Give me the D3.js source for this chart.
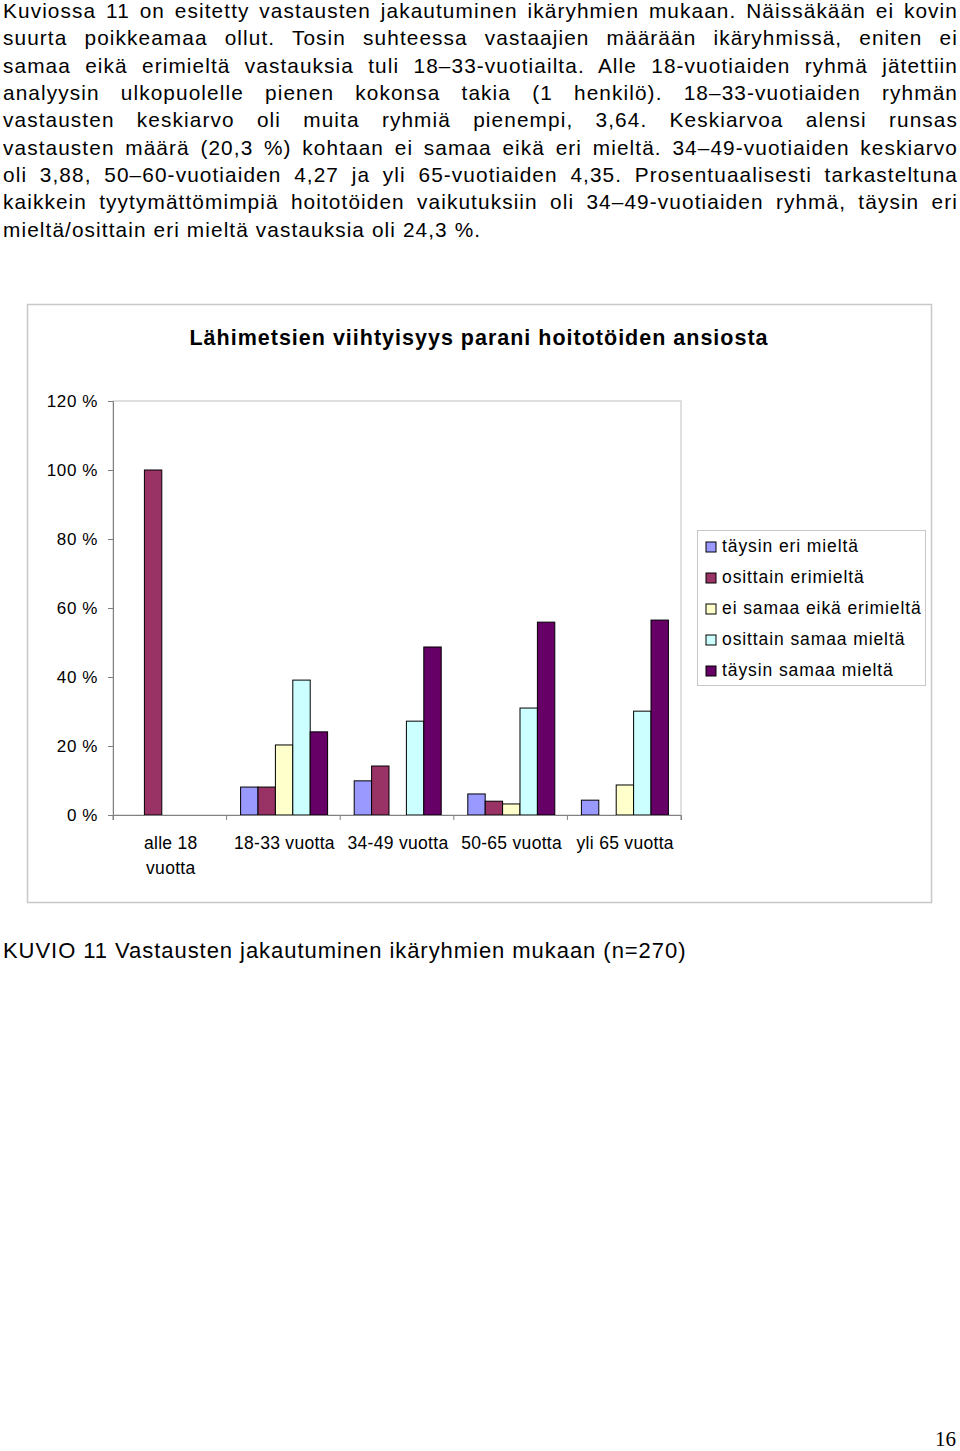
<!DOCTYPE html>
<html lang="fi">
<head>
<meta charset="UTF-8">
<title>Lähimetsien viihtyisyys</title>
<style>
  body { margin: 0; width: 960px; height: 1451px; background: #fff; font-family: "Liberation Sans", Arial, sans-serif; position: relative; }
  .para { position: absolute; left: 3px; top: -3px; width: 955px; font-size: 20.8px; letter-spacing: 1.1px; line-height: 27.35px; color: #000; }
  .para div { text-align: justify; text-align-last: justify; white-space: nowrap; }
  .para div.last { text-align-last: left; }
  svg { position: absolute; left: 0; top: 0; }
</style>
</head>
<body>
<div class="para" id="para"></div>
<svg id="chart" width="960" height="1451"></svg>
<script src="https://d3js.org/d3.v7.min.js"></script>
<script>
// paragraph lines as in the reference
const textLines = [
  "Kuviossa 11 on esitetty vastausten jakautuminen ikäryhmien mukaan. Näissäkään ei kovin",
  "suurta poikkeamaa ollut. Tosin suhteessa vastaajien määrään ikäryhmissä, eniten ei",
  "samaa eikä erimieltä vastauksia tuli 18–33-vuotiailta. Alle 18-vuotiaiden ryhmä jätettiin",
  "analyysin ulkopuolelle pienen kokonsa takia (1 henkilö). 18–33-vuotiaiden ryhmän",
  "vastausten keskiarvo oli muita ryhmiä pienempi, 3,64. Keskiarvoa alensi runsas",
  "vastausten määrä (20,3 %) kohtaan ei samaa eikä eri mieltä. 34–49-vuotiaiden keskiarvo",
  "oli 3,88, 50–60-vuotiaiden 4,27 ja yli 65-vuotiaiden 4,35. Prosentuaalisesti tarkasteltuna",
  "kaikkein tyytymättömimpiä hoitotöiden vaikutuksiin oli 34–49-vuotiaiden ryhmä, täysin eri",
  "mieltä/osittain eri mieltä vastauksia oli 24,3 %."
];

const categories = ["alle 18 vuotta", "18-33 vuotta", "34-49 vuotta", "50-65 vuotta", "yli 65 vuotta"];
const categoryLines = [["alle 18", "vuotta"], ["18-33 vuotta"], ["34-49 vuotta"], ["50-65 vuotta"], ["yli 65 vuotta"]];
const seriesNames = ["täysin eri mieltä", "osittain erimieltä", "ei samaa eikä erimieltä", "osittain samaa mieltä", "täysin samaa mieltä"];
const seriesColors = ["#9999ff", "#993366", "#ffffcc", "#ccffff", "#660066"];
// values in percent, one array per series, ordered by category
const taysinEri    = [0, 8.1, 9.9, 6.1, 4.3];
const osittainEri  = [100, 8.1, 14.2, 4.0, 0];
const eiSamaaEika  = [0, 20.3, 0, 3.2, 8.7];
const osittainSama = [0, 39.1, 27.2, 31.0, 30.1];
const taysinSama   = [0, 24.1, 48.7, 55.9, 56.5];
const seriesValues = [taysinEri, osittainEri, eiSamaaEika, osittainSama, taysinSama];
const yTicks = [0, 20, 40, 60, 80, 100, 120];

// paragraph
const para = d3.select("#para");
textLines.forEach((t, i) => {
  para.append("div").attr("class", i === textLines.length - 1 ? "last" : null).text(t);
});

const svg = d3.select("#chart");
const font = "Liberation Sans, Arial, sans-serif";

// chart frame
svg.append("rect").attr("x", 27.5).attr("y", 304.5).attr("width", 904).attr("height", 598)
  .attr("fill", "#fff").attr("stroke", "#c8c8c8").attr("stroke-width", 1.5);

svg.append("text").attr("x", 479).attr("y", 345).attr("text-anchor", "middle")
  .attr("font-family", font).attr("font-weight", "bold").attr("font-size", 21.5)
  .attr("letter-spacing", 1).text("Lähimetsien viihtyisyys parani hoitotöiden ansiosta");

const plot = { left: 113, right: 681, top: 401, bottom: 815 };
const y = d3.scaleLinear().domain([0, 120]).range([plot.bottom, plot.top]);
const x0 = d3.scaleBand().domain(categories).range([plot.left, plot.right]);
const x1 = d3.scaleBand().domain(seriesNames).range([14, 14 + 87]);

// plot area border
svg.append("rect").attr("x", plot.left).attr("y", plot.top)
  .attr("width", plot.right - plot.left).attr("height", plot.bottom - plot.top)
  .attr("fill", "none").attr("stroke", "#c0c0c0");

// y axis
const yAxis = svg.append("g").attr("transform", `translate(${plot.left},0)`)
  .call(d3.axisLeft(y).tickValues(yTicks).tickSize(5).tickPadding(10).tickFormat(d => d + " %"));
yAxis.selectAll("path, line").attr("stroke", "#808080");
yAxis.selectAll("text").attr("font-family", font).attr("font-size", 17).attr("letter-spacing", 0.6).attr("fill", "#000");

// bars
seriesNames.forEach((s, si) => {
  svg.append("g").selectAll("rect")
    .data(seriesValues[si].map((v, ci) => ({ v, c: categories[ci] })).filter(d => d.v > 0))
    .join("rect")
    .attr("x", d => x0(d.c) + x1(s))
    .attr("y", d => y(d.v))
    .attr("width", x1.bandwidth())
    .attr("height", d => y(0) - y(d.v))
    .attr("fill", seriesColors[si])
    .attr("stroke", "#000").attr("stroke-width", 1);
});

// x axis
const xAxis = svg.append("g").attr("transform", `translate(0,${plot.bottom})`)
  .call(d3.axisBottom(x0).tickSize(5).tickFormat(""));
xAxis.selectAll("path, line").attr("stroke", "#808080");
xAxis.selectAll(".tick line").attr("transform", `translate(${x0.bandwidth() / 2},0)`);
svg.append("line").attr("x1", plot.left).attr("x2", plot.left).attr("y1", plot.bottom).attr("y2", plot.bottom + 5).attr("stroke", "#808080");
categories.forEach((c, i) => {
  const cx = x0(c) + x0.bandwidth() / 2 + 1;
  const t = svg.append("text").attr("x", cx).attr("y", 849)
    .attr("text-anchor", "middle").attr("font-family", font).attr("font-size", 17.5).attr("letter-spacing", 0.3);
  categoryLines[i].forEach((l, j) => t.append("tspan").attr("x", cx).attr("dy", j ? 25 : 0).text(l));
});

// legend
svg.append("rect").attr("x", 697.5).attr("y", 530.5).attr("width", 228).attr("height", 155)
  .attr("fill", "#fff").attr("stroke", "#c8c8c8");
seriesNames.forEach((s, i) => {
  const ly = 546 + i * 31;
  svg.append("rect").attr("x", 706).attr("y", ly - 4).attr("width", 10).attr("height", 10)
    .attr("fill", seriesColors[i]).attr("stroke", "#000");
  svg.append("text").attr("x", 722).attr("y", ly + 6).attr("font-family", font).attr("font-size", 17.5)
    .attr("letter-spacing", 0.9).text(s);
});

// caption and page number
svg.append("text").attr("x", 3).attr("y", 958).attr("font-family", font).attr("font-size", 22)
  .attr("letter-spacing", 0.95).text("KUVIO 11 Vastausten jakautuminen ikäryhmien mukaan (n=270)");
svg.append("text").attr("x", 956).attr("y", 1446).attr("text-anchor", "end")
  .attr("font-family", "Liberation Serif, Times New Roman, serif").attr("font-size", 21).text("16");
</script>
</body>
</html>
